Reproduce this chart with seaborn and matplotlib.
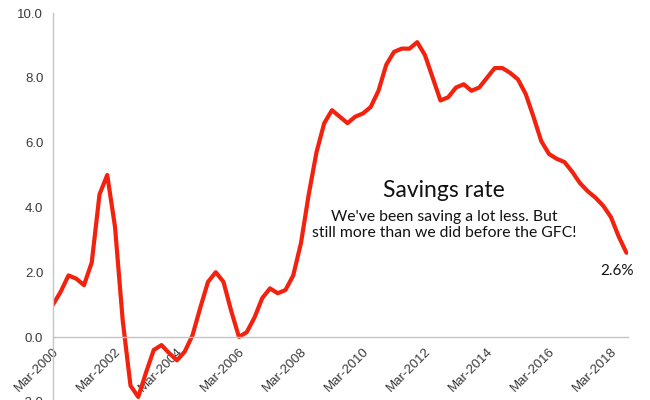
import numpy as np
import pandas as pd
import matplotlib
matplotlib.use("Agg")
import matplotlib.pyplot as plt
import seaborn as sns

# Household savings rate (%), quarterly, Mar-2000 .. Sep-2018
savings = [1.0, 1.4, 1.9, 1.8, 1.6, 2.3, 4.4, 5.0, 3.4, 0.5,
           -1.5, -1.85, -1.1, -0.4, -0.25, -0.5, -0.72, -0.45, 0.05, 0.9,
           1.7, 2.0, 1.7, 0.8, 0.0, 0.15, 0.6, 1.2, 1.5, 1.35,
           1.45, 1.9, 2.9, 4.4, 5.7, 6.6, 7.0, 6.8, 6.6, 6.8,
           6.9, 7.1, 7.6, 8.4, 8.8, 8.9, 8.9, 9.1, 8.7, 8.0,
           7.3, 7.4, 7.7, 7.8, 7.6, 7.7, 8.0, 8.3, 8.3, 8.15,
           7.95, 7.5, 6.8, 6.05, 5.65, 5.5, 5.4, 5.1, 4.75, 4.5,
           4.3, 4.05, 3.7, 3.1, 2.6]
tick_labels = ["Mar-2000", "Mar-2002", "Mar-2004", "Mar-2006", "Mar-2008",
               "Mar-2010", "Mar-2012", "Mar-2014", "Mar-2016", "Mar-2018"]
y_ticks = [-2.0, 0.0, 2.0, 4.0, 6.0, 8.0, 10.0]
title = "Savings rate"
subtitle = "We've been saving a lot less. But\nstill more than we did before the GFC!"
end_label = "2.6%"

df = pd.DataFrame({"q": np.arange(len(savings)), "rate": savings})

sns.set_theme(style="white")
plt.rcParams["font.family"] = ["Liberation Sans", "DejaVu Sans"]

fig = plt.figure(figsize=(6.5, 4.0), dpi=100)
ax = fig.add_axes([53 / 650, -0.0045, 575 / 650, 0.972])

sns.lineplot(data=df, x="q", y="rate", ax=ax, color="#F2220E", linewidth=3.0)

for s in ["top", "right"]:
    ax.spines[s].set_visible(False)
ax.spines["bottom"].set_position(("data", 0))
for s in ["left", "bottom"]:
    ax.spines[s].set_color("#c4c4c4")
    ax.spines[s].set_linewidth(1.0)

ax.set_xlim(0, 74.2)
ax.set_ylim(-2, 10)
ax.set_xlabel("")
ax.set_ylabel("")

ax.set_xticks(np.arange(len(tick_labels)) * 8)
ax.set_xticklabels(tick_labels)
ax.set_yticks(y_ticks)
ax.set_yticklabels([f"{v:.1f}" for v in y_ticks])

ax.tick_params(axis="both", which="major", direction="out", length=4,
               width=1, color="#c4c4c4", labelcolor="#3a3a3a", labelsize=9.5)
ax.tick_params(axis="x", pad=2)
ax.tick_params(axis="y", pad=3)
for lbl in ax.get_xticklabels():
    lbl.set_rotation(45)
    lbl.set_ha("right")
    lbl.set_rotation_mode("anchor")

fig.text(444 / 650, (400 - 197) / 400, title, ha="center", va="baseline",
         fontsize=16.5, family=["Lato", "DejaVu Sans"], color="#111111")
fig.text(444 / 650, (400 - 237) / 400, subtitle, ha="center", va="baseline",
         fontsize=11.3, family=["Lato", "DejaVu Sans"], color="#111111",
         linespacing=1.2)
fig.text(617 / 650, (400 - 275) / 400, end_label, ha="center", va="baseline",
         fontsize=11, family=["Lato", "DejaVu Sans"], color="#111111")

fig.savefig("out.png", dpi=100)
